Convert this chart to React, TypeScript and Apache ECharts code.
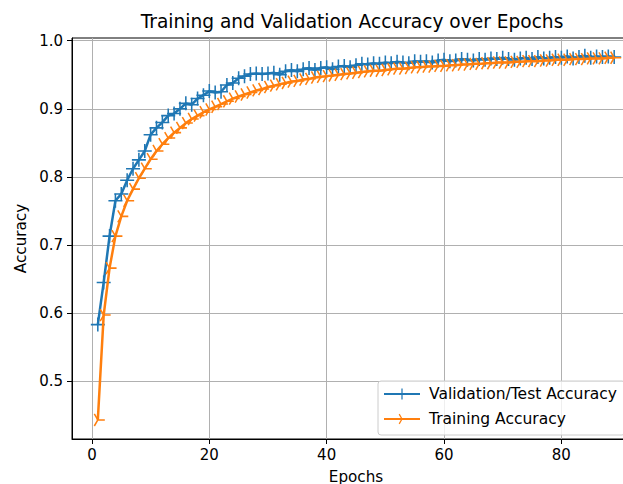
import React, { useEffect, useRef } from "react";
import * as echarts from "echarts";

const valAcc = [
  0.583, 0.645, 0.713, 0.765, 0.775, 0.795, 0.812, 0.825, 0.838, 0.862,
  0.872, 0.88, 0.89, 0.893, 0.9, 0.908, 0.906, 0.915, 0.92, 0.926,
  0.924, 0.925, 0.935, 0.938, 0.945, 0.948, 0.951, 0.952, 0.951, 0.952,
  0.953, 0.95, 0.955, 0.957, 0.955, 0.958, 0.96, 0.957, 0.96, 0.961,
  0.958, 0.962, 0.963, 0.961, 0.964, 0.966, 0.965, 0.967, 0.966, 0.968,
  0.967, 0.969, 0.968, 0.967, 0.97, 0.969, 0.97, 0.968, 0.971, 0.972,
  0.97, 0.971, 0.973, 0.972, 0.971, 0.973, 0.972, 0.974, 0.973, 0.975,
  0.973, 0.972, 0.974, 0.975, 0.973, 0.976, 0.974, 0.975, 0.976, 0.975,
  0.977, 0.974, 0.976, 0.978, 0.975, 0.977, 0.976, 0.977, 0.976,
];

const trainAcc = [
  0.443, 0.597, 0.666, 0.713, 0.742, 0.765, 0.782, 0.798, 0.812, 0.826,
  0.838, 0.848, 0.857, 0.865, 0.872, 0.879, 0.885, 0.89, 0.895, 0.899,
  0.903, 0.907, 0.911, 0.915, 0.918, 0.921, 0.924, 0.927, 0.929, 0.932,
  0.934, 0.936, 0.938, 0.94, 0.941, 0.943, 0.944, 0.946, 0.947, 0.948,
  0.949, 0.95, 0.951, 0.952, 0.953, 0.954, 0.955, 0.956, 0.956, 0.957,
  0.958, 0.959, 0.959, 0.96, 0.961, 0.961, 0.962, 0.962, 0.963, 0.963,
  0.964, 0.964, 0.965, 0.965, 0.966, 0.966, 0.967, 0.967, 0.968, 0.968,
  0.968, 0.969, 0.969, 0.97, 0.97, 0.97, 0.971, 0.971, 0.972, 0.972,
  0.972, 0.973, 0.973, 0.973, 0.974, 0.974, 0.974, 0.975, 0.975,
];

const epochs = valAcc.map((_, i) => i + 1);
const xTicks = [0, 20, 40, 60, 80];
const yTicks = [0.5, 0.6, 0.7, 0.8, 0.9, 1.0];

const TITLE = "Training and Validation Accuracy over Epochs";
const FONT = "DejaVu Sans";

// Build a filled path made of thin spokes radiating from the centre
function spokes(anglesDeg: number[], halfT: number): string {
  let d = "M-1,-1 L-1,-1 Z M1,1 L1,1 Z ";
  for (const a of anglesDeg) {
    const r = (a * Math.PI) / 180;
    const c = Math.cos(r);
    const s = Math.sin(r);
    const nx = -s * halfT;
    const ny = c * halfT;
    const p = [
      [nx, ny],
      [c + nx, s + ny],
      [c - nx, s - ny],
      [-nx, -ny],
    ];
    d += `M${p[0][0].toFixed(4)},${p[0][1].toFixed(4)} `;
    for (let k = 1; k < 4; k++) d += `L${p[k][0].toFixed(4)},${p[k][1].toFixed(4)} `;
    d += "Z ";
  }
  return "path://" + d;
}

const plusSymbol = spokes([0, 90, 180, 270], 0.11);
const triRightSymbol = spokes([0, 120, 240], 0.11);

export default function App() {
  const ref = useRef<HTMLDivElement>(null);

  useEffect(() => {
    if (!ref.current) return;
    const chart = echarts.init(ref.current, null, { renderer: "svg" });
    chart.setOption({
      animation: false,
      backgroundColor: "#fff",
      textStyle: { fontFamily: FONT },
      grid: {
        left: 72,
        top: 38,
        width: 568,
        height: 401,
        containLabel: false,
        outerBoundsMode: "none",
        show: true,
        borderColor: "#000",
        borderWidth: 1,
        backgroundColor: "transparent",
      },
      graphic: [
        {
          type: "text",
          x: 352,
          y: 21,
          style: {
            text: TITLE,
            fontFamily: FONT,
            fontSize: 18.6,
            fill: "#000",
            textAlign: "center",
            textVerticalAlign: "middle",
          },
        },
      ],
      legend: {
        orient: "vertical",
        left: 378,
        top: 381,
        itemWidth: 36,
        itemHeight: 14,
        itemGap: 9,
        padding: [5, 8, 8, 5],
        backgroundColor: "rgba(255,255,255,0.8)",
        borderColor: "#cccccc",
        borderWidth: 1,
        borderRadius: 3,
        textStyle: {
          fontFamily: FONT,
          fontSize: 15.5,
          color: "#000",
          padding: [0, 0, 0, 4],
        },
        data: ["Validation/Test Accuracy", "Training Accuracy"],
      },
      xAxis: {
        type: "value",
        min: -3.4,
        max: 93.4,
        minInterval: 20,
        maxInterval: 20,
        splitNumber: 5,
        name: "Epochs",
        nameLocation: "middle",
        nameGap: 30,
        nameTextStyle: { fontFamily: FONT, fontSize: 15.2, color: "#000" },
        axisLine: {
          show: true,
          onZero: false,
          lineStyle: { color: "#000", width: 1 },
        },
        axisTick: {
          show: true,
          length: 5,
          lineStyle: { color: "#000", width: 1 },
          customValues: xTicks,
        },
        axisLabel: {
          fontFamily: FONT,
          fontSize: 15,
          color: "#000",
          margin: 8,
          customValues: xTicks,
        },
        splitLine: { show: true, lineStyle: { color: "#b0b0b0", width: 1 } },
      },
      yAxis: {
        type: "value",
        min: 0.415,
        max: 1.004,
        minInterval: 0.1,
        maxInterval: 0.1,
        name: "Accuracy",
        nameLocation: "middle",
        nameGap: 44,
        nameTextStyle: { fontFamily: FONT, fontSize: 15.2, color: "#000" },
        axisLine: {
          show: true,
          onZero: false,
          lineStyle: { color: "#000", width: 1 },
        },
        axisTick: {
          show: true,
          length: 5,
          lineStyle: { color: "#000", width: 1 },
          customValues: yTicks,
        },
        axisLabel: {
          fontFamily: FONT,
          fontSize: 15,
          color: "#000",
          margin: 9,
          customValues: yTicks,
          formatter: (v: number) => v.toFixed(1),
        },
        splitLine: { show: true, lineStyle: { color: "#b0b0b0", width: 1 } },
      },
      series: [
        {
          name: "Validation/Test Accuracy",
          type: "line",
          data: epochs.map((e, i) => [e, valAcc[i]]),
          symbol: plusSymbol,
          symbolSize: 14,
          showAllSymbol: true,
          lineStyle: { color: "#1f77b4", width: 2.5 },
          itemStyle: { color: "#1f77b4" },
          emphasis: { disabled: true },
          z: 3,
        },
        {
          name: "Training Accuracy",
          type: "line",
          data: epochs.map((e, i) => [e, trainAcc[i]]),
          symbol: triRightSymbol,
          symbolSize: 14,
          showAllSymbol: true,
          lineStyle: { color: "#ff7f0e", width: 2.5 },
          itemStyle: { color: "#ff7f0e" },
          emphasis: { disabled: true },
          z: 4,
        },
      ],
    });
    return () => chart.dispose();
  }, []);

  return (
    <div
      ref={ref}
      style={{ position: "fixed", left: 0, top: 0, width: 623, height: 484 }}
    />
  );
}
